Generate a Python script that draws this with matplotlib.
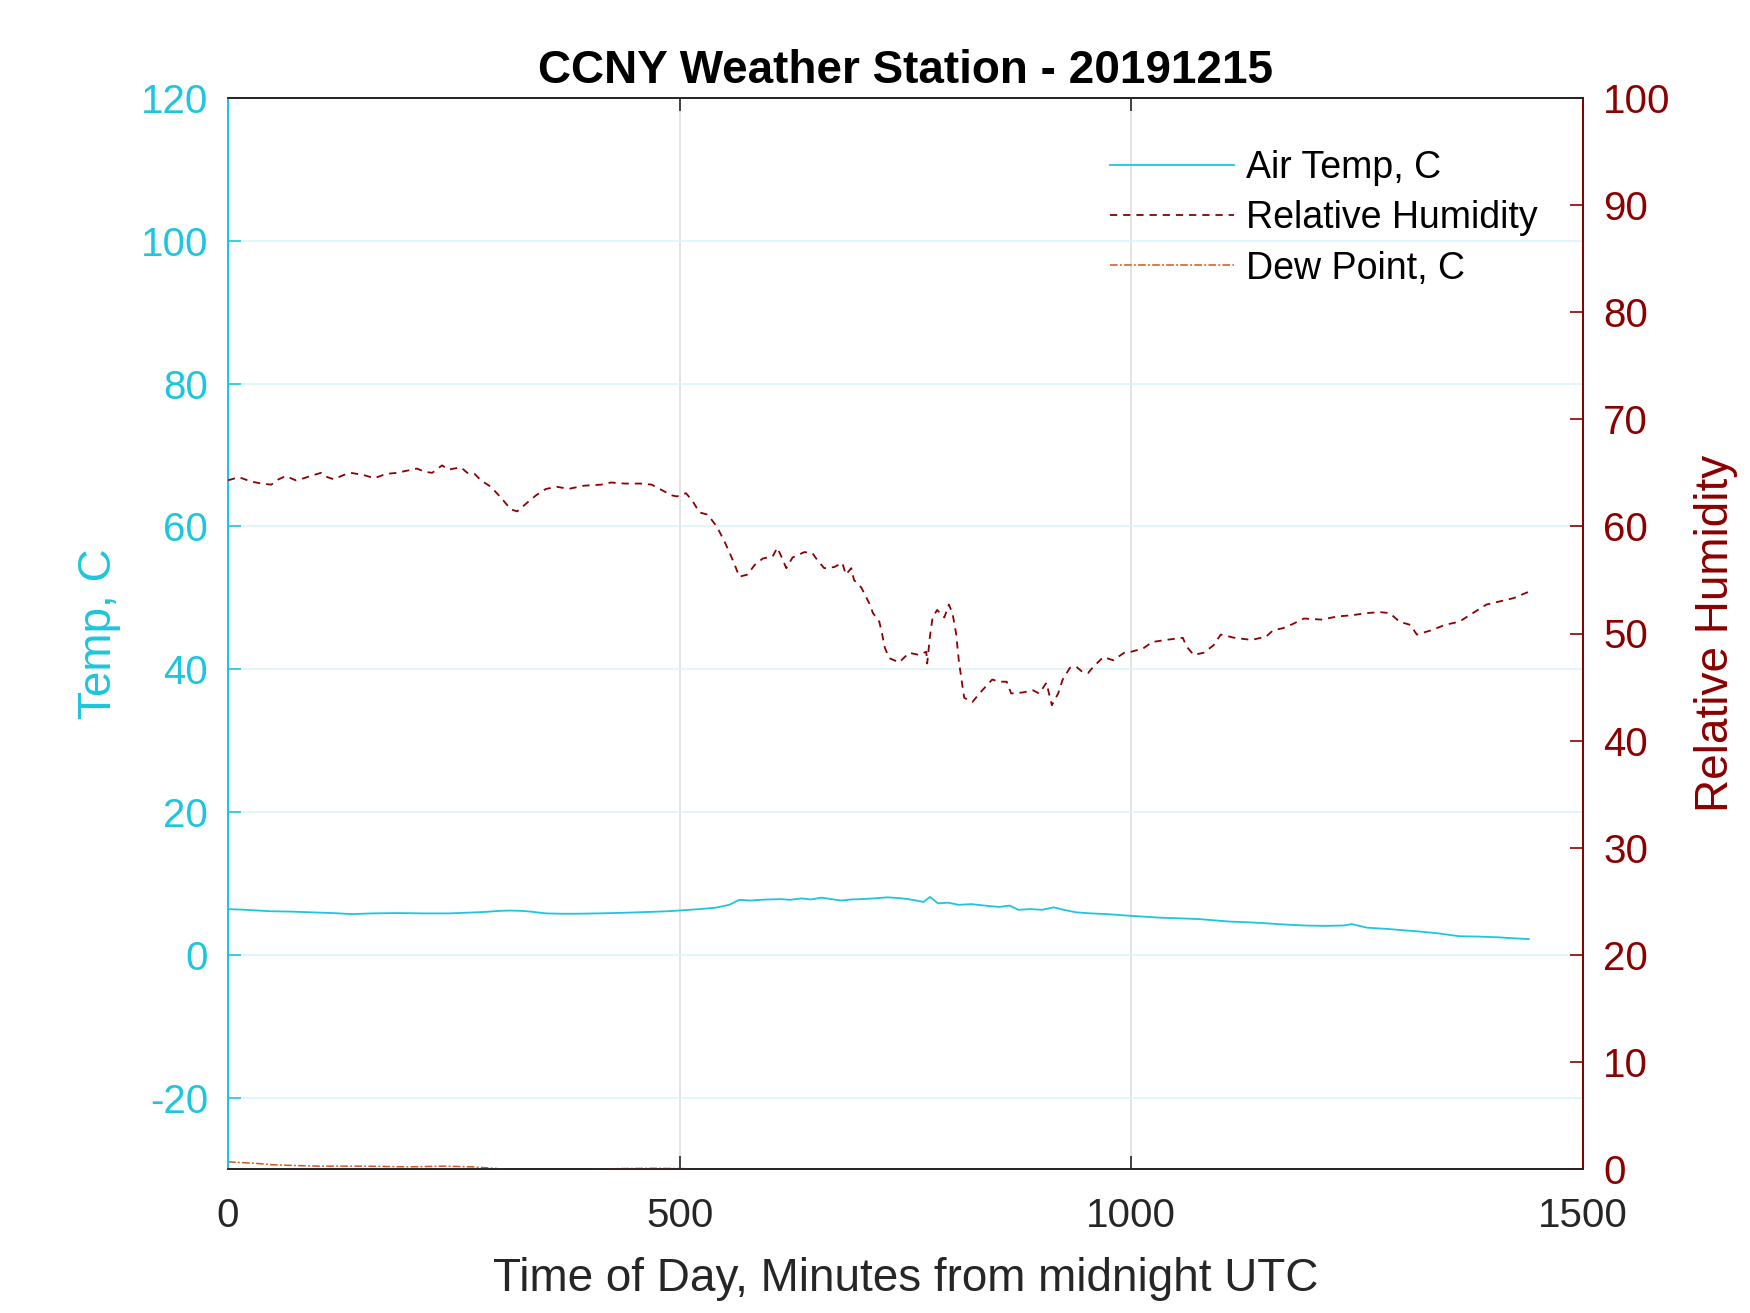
import matplotlib
matplotlib.use("Agg")
import matplotlib.pyplot as plt
import numpy as np

plt.rcParams['font.family'] = ['Liberation Sans', 'DejaVu Sans']
plt.rcParams['axes.unicode_minus'] = False

# ---------------- data ----------------
temp_min = [0, 20, 47, 70, 92, 115, 137, 160, 188, 215, 245, 265, 284, 300, 312, 325, 335, 352, 370,
            385, 410, 442, 465, 487, 505, 522, 540, 555, 566, 578, 589, 600, 612, 622, 635, 645,
            657, 668, 679, 690, 702, 715, 730, 742, 753, 762, 770, 777, 786, 797, 809, 823, 837,
            854, 865, 875, 888, 901, 914, 925, 939, 955, 973, 1000, 1032, 1055, 1075, 1109, 1130,
            1151, 1175, 1193, 1215, 1235, 1244, 1261, 1286, 1300, 1320, 1340, 1363, 1385, 1406,
            1425, 1440]
temp_val = [6.4, 6.3, 6.1, 6.05, 5.95, 5.85, 5.7, 5.8, 5.85, 5.8, 5.8, 5.9, 6.0, 6.15, 6.2, 6.15,
            6.05, 5.8, 5.75, 5.75, 5.8, 5.9, 6.0, 6.1, 6.25, 6.4, 6.6, 7.0, 7.7, 7.6, 7.7, 7.75,
            7.8, 7.7, 7.9, 7.75, 8.0, 7.8, 7.6, 7.75, 7.8, 7.9, 8.05, 7.95, 7.8, 7.6, 7.4, 8.1,
            7.2, 7.3, 7.0, 7.1, 6.9, 6.7, 6.9, 6.3, 6.4, 6.3, 6.65, 6.3, 5.95, 5.8, 5.7, 5.45,
            5.2, 5.1, 5.0, 4.65, 4.55, 4.4, 4.2, 4.1, 4.05, 4.1, 4.3, 3.8, 3.6, 3.45, 3.25,
            3.0, 2.6, 2.55, 2.45, 2.3, 2.2]

rh_min = [0, 12, 25, 37, 48, 56, 64, 75, 84, 95, 103, 110, 117, 128, 136, 150, 162, 175, 187, 198,
          209, 218, 226, 237, 244, 250, 258, 265, 273, 280, 291, 302, 313, 320, 331, 341, 352, 364,
          377, 394, 413, 424, 439, 457, 469, 480, 491, 497, 507, 514, 522, 531, 541, 549, 555,
          561, 566, 575, 583, 592, 603, 608, 612, 618, 625, 638, 647, 652, 660, 671, 680, 684,
          690, 693, 701, 710, 714, 721, 724, 727, 732, 743, 754, 765, 773, 774, 777, 780, 785,
          793, 798, 802, 806, 809, 812, 815, 824, 835, 846, 854, 862, 867, 880, 891, 898, 906,
          912, 919, 924, 932, 939, 946, 952, 958, 969, 980, 992, 1000, 1013, 1023, 1038, 1057,
          1061, 1069, 1080, 1091, 1099, 1114, 1133, 1149, 1157, 1168, 1179, 1191, 1210, 1229,
          1244, 1260, 1275, 1286, 1297, 1309, 1316, 1332, 1347, 1363, 1378, 1393, 1408, 1423,
          1440]
rh_val = [64.3, 64.6, 64.2, 64.0, 63.9, 64.4, 64.7, 64.3, 64.5, 64.8, 65.0, 64.6, 64.4, 64.8,
          65.0, 64.8, 64.5, 64.9, 65.0, 65.2, 65.4, 65.1, 65.0, 65.7, 65.3, 65.4, 65.5, 65.0,
          64.9, 64.3, 63.7, 62.7, 61.6, 61.4, 62.2, 62.9, 63.5, 63.7, 63.5, 63.8, 63.9, 64.1,
          64.0, 64.0, 63.9, 63.4, 62.9, 62.8, 63.1, 62.4, 61.3, 61.1, 60.0, 58.7, 57.6, 56.4,
          55.3, 55.5, 56.4, 57.0, 57.2, 58.0, 57.3, 56.1, 57.1, 57.6, 57.5, 56.9, 56.1, 56.2,
          56.6, 55.5, 56.1, 55.0, 54.3, 52.8, 51.9, 51.1, 50.0, 48.7, 47.7, 47.3, 48.2, 48.0,
          48.3, 47.2, 49.7, 51.5, 52.2, 51.5, 52.7, 51.9, 50.0, 47.5, 45.7, 44.0, 43.6, 44.7,
          45.7, 45.5, 45.5, 44.4, 44.5, 44.7, 44.4, 45.4, 43.3, 44.4, 45.7, 46.8, 46.9, 46.4,
          46.3, 46.9, 47.8, 47.5, 48.2, 48.3, 48.6, 49.2, 49.4, 49.6, 48.8, 48.0, 48.2, 48.9,
          49.9, 49.6, 49.4, 49.7, 50.3, 50.5, 50.9, 51.4, 51.3, 51.6, 51.7, 51.9, 52.0, 51.9,
          51.1, 50.8, 49.9, 50.3, 50.8, 51.1, 51.9, 52.7, 53.0, 53.3, 53.9]

dew_min = [0, 15, 30, 48, 70, 100, 150, 200, 240, 270, 295, 320, 360, 400, 430, 470, 505, 530,
           600, 700, 800, 900, 1000, 1100, 1200, 1300, 1440]
dew_val = [-29.0, -29.1, -29.2, -29.4, -29.5, -29.6, -29.6, -29.7, -29.6, -29.7, -29.9, -30.3,
           -30.2, -30.05, -29.95, -29.9, -29.95, -30.4, -31.5, -33.0, -35.0, -34.0, -33.0,
           -33.0, -32.5, -32.0, -31.5]

left_ticks = [-20, 0, 20, 40, 60, 80, 100, 120]
right_ticks = [0, 10, 20, 30, 40, 50, 60, 70, 80, 90, 100]
x_ticks = [0, 500, 1000, 1500]

title = "CCNY Weather Station - 20191215"
xlabel = "Time of Day, Minutes from midnight UTC"
ylabel_left = "Temp, C"
ylabel_right = "Relative Humidity"
labels = ["Air Temp, C", "Relative Humidity", "Dew Point, C"]

# ---------------- styles ----------------
CYAN = '#1CC6DE'
DRED = '#8B0000'
ORNG = '#D95319'
DARK = '#262626'

fig = plt.figure(figsize=(17.5, 13.13), dpi=100)
ax = fig.add_axes([228 / 1750, 1 - 1169 / 1313, (1583 - 228) / 1750, (1169 - 98) / 1313])
ax2 = ax.twinx()

l_temp, = ax.plot(temp_min, temp_val, color=CYAN, lw=1.3, zorder=3)
l_dew, = ax.plot(dew_min, dew_val, color=ORNG, lw=1.1, dashes=(5, 1.5, 1.2, 1.5), zorder=3)
l_rh, = ax2.plot(rh_min, rh_val, color=DRED, lw=1.3, dashes=(4, 3.3), zorder=3)

ax.set_xlim(0, 1500)
ax.set_ylim(-30, 120)
ax2.set_ylim(0, 100)
ax.set_xticks(x_ticks)
ax.set_yticks(left_ticks)
ax2.set_yticks(right_ticks)

tick_fs = 29
ax.tick_params(axis='x', direction='in', top=True, bottom=True, length=9.4, width=1.2,
               color=DARK, labelcolor=DARK, labelsize=tick_fs, pad=20)
ax.tick_params(axis='y', direction='in', left=True, right=False, length=9.4, width=1.2,
               color=CYAN, labelcolor=CYAN, labelsize=tick_fs, pad=14.4)
ax2.tick_params(axis='y', direction='in', right=True, left=False, length=9.4, width=1.2,
                color=DRED, labelcolor=DRED, labelsize=tick_fs, pad=14.4)

ax.set_axisbelow(True)
ax.grid(axis='y', color='#DDF5F9', lw=1.2)
ax.grid(axis='x', color='#DEDEDE', lw=1.2)

for a in (ax, ax2):
    a.spines['top'].set_color(DARK)
    a.spines['bottom'].set_color(DARK)
    a.spines['left'].set_color(CYAN)
    a.spines['right'].set_color(DRED)
    for s in a.spines.values():
        s.set_linewidth(1.3)

ax.set_title(title, fontsize=33, fontweight='bold', color='black', pad=10.8)
ax.set_xlabel(xlabel, fontsize=33, color=DARK)
ax.xaxis.set_label_coords(0.5, -0.0822)
ax.xaxis.label.set_verticalalignment('top')
ax.set_ylabel(ylabel_left, fontsize=33, color=CYAN)
ax.yaxis.set_label_coords(-0.079, 0.5)
ax2.set_ylabel(ylabel_right, fontsize=33, color=DRED)
ax2.yaxis.set_label_coords(1.082, 0.5)

leg = ax2.legend([l_temp, l_rh, l_dew], labels, loc='upper left',
                 bbox_to_anchor=(1110 / 1750, 1 - 150 / 1313), bbox_transform=fig.transFigure,
                 frameon=False, fontsize=27, handlelength=3.3, handletextpad=0.32,
                 labelspacing=0.38, borderpad=0, borderaxespad=0)
for t in leg.get_texts():
    t.set_color('black')

fig.savefig('out.png', dpi=100)
